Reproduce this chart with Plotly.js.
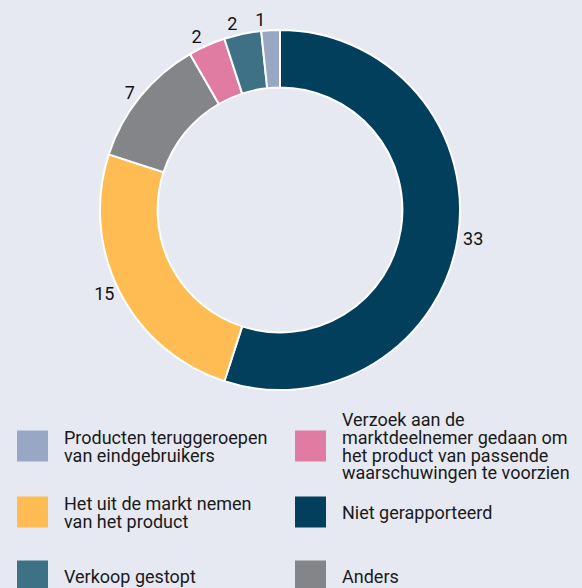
<!DOCTYPE html>
<html><head><meta charset="utf-8">
<script src="https://cdn.plot.ly/plotly-3.0.1.min.js"></script>
<style>html,body{margin:0;padding:0;background:#e6e9f1;}#chart{width:582px;height:588px;}</style>
</head><body><div id="chart"></div>
<script>
const categories = ["Niet gerapporteerd","Het uit de markt nemen van het product","Anders","Verzoek aan de marktdeelnemer gedaan om het product van passende waarschuwingen te voorzien","Verkoop gestopt","Producten teruggeroepen van eindgebruikers"];
const values = [33, 15, 7, 2, 2, 1];
const colors = ["#023f5c","#ffbc52","#848588","#e07ba1","#3f7186","#98a8c4"];
const legendOrder = [5, 3, 1, 0, 4, 2];
const legendLabels = {
  0: "Niet gerapporteerd",
  1: "Het uit de markt nemen<br>van het product",
  2: "Anders",
  3: "Verzoek aan de<br>marktdeelnemer gedaan om<br>het product van passende<br>waarschuwingen te voorzien",
  4: "Verkoop gestopt",
  5: "Producten teruggeroepen<br>van eindgebruikers"
};
const W = 582, H = 588;
const FONT = "Roboto";
const colX = [17, 295];
const rowY = [446, 512, 576];
const lineGap = 18;
const shapes = [], annotations = [];
legendOrder.forEach((ci, k) => {
  const col = k % 2, row = Math.floor(k / 2);
  const x0 = colX[col], yc = rowY[row];
  shapes.push({type:"rect", xref:"paper", yref:"paper",
    x0: x0/W, x1: (x0+31)/W, y0: 1-(yc-15.5)/H, y1: 1-(yc+15.5)/H,
    fillcolor: colors[ci], line:{width:0}});
  const lines = legendLabels[ci].split("<br>");
  const top = yc - (lines.length-1)*lineGap/2;
  lines.forEach((ln, j) => {
    annotations.push({xref:"paper", yref:"paper", x:(x0+45)/W, y:1-(top + j*lineGap)/H,
      xanchor:"left", yanchor:"middle", align:"left", showarrow:false,
      text: ln, font:{family:FONT, size:18, color:"#1a1a1a"}});
  });
});
const dom = {x:[0.1718,0.7904], y:[0.3367,0.949]};
const labelFont = {family:FONT, size:18, color:"#111111"};
const data = [{
  type:"pie", values: values, labels: categories, sort:false, direction:"clockwise", rotation:0,
  hole:0.68, marker:{colors: colors, line:{color:"#ffffff", width:2}},
  textinfo:"value", textposition: values.map((v,i)=> i<3 ? "outside" : "none"),
  outsidetextfont: labelFont, domain: dom, showlegend:false, automargin:false, hoverinfo:"skip"
}];
// separate overlay traces for the three small slices so their labels sit next to their own slice
[3,4,5].forEach(idx => {
  data.push({
    type:"pie", values: values, labels: categories, sort:false, direction:"clockwise", rotation:0,
    hole:0.68, marker:{colors: values.map(()=> "rgba(0,0,0,0)"), line:{width:0}},
    textinfo:"value", textposition: values.map((v,i)=> i===idx ? "outside" : "none"),
    outsidetextfont: labelFont, domain: dom, showlegend:false, automargin:false, hoverinfo:"skip"
  });
});
const layout = {width:W, height:H, margin:{l:0,r:0,t:0,b:0}, paper_bgcolor:"#e6e9f1", plot_bgcolor:"#e6e9f1",
  showlegend:false, shapes: shapes, annotations: annotations};
Plotly.newPlot("chart", data, layout, {displayModeBar:false, staticPlot:true});
</script></body></html>
